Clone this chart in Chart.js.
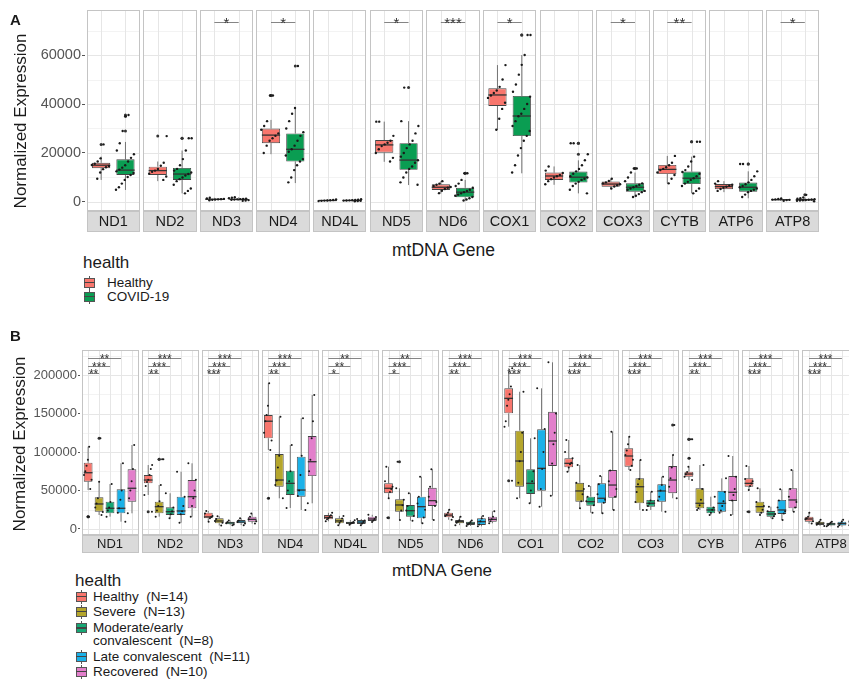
<!DOCTYPE html>
<html>
<head>
<meta charset="utf-8">
<script src="https://cdn.jsdelivr.net/npm/chart.js@4.4.1/dist/chart.umd.min.js"></script>
<style>
  html, body { margin: 0; padding: 0; background: #fff; }
  body { width: 849px; height: 680px; overflow: hidden; position: relative;
         font-family: 'Liberation Sans', Arial, Helvetica, sans-serif; color: #1a1a1a; }
  canvas { position: absolute; display: block; }
  .lbl { position: absolute; white-space: pre; line-height: 1; }
  .ctr { transform: translate(-50%, -50%); }
  .vert { transform: translate(-50%, -50%) rotate(-90deg); }
  .key { position: absolute; width: 11px; height: 14px; }
  .key .wl { position: absolute; left: 5px; top: 0; width: 1px; height: 14px; background: #555; }
  .key .bx { position: absolute; left: 0; top: 2px; width: 11px; height: 10px; box-sizing: border-box; border: 1px solid #555; }
  .key .md { position: absolute; left: 0; top: 6px; width: 11px; height: 1.5px; background: #444; }
</style>
</head>
<body>
<canvas id="chartA" width="849" height="240" style="left:0;top:0"></canvas>
<canvas id="chartB" width="870" height="230" style="left:0;top:330px"></canvas>
<div id="overlay"></div>
<script>
// ---------- Panel A: Healthy vs COVID-19 ----------
const GENES_A = ['ND1','ND2','ND3','ND4','ND4L','ND5','ND6','COX1','COX2','COX3','CYTB','ATP6','ATP8'];
const TICKS_A = [0, 20000, 40000, 60000];
const SERIES_A = ['Healthy', 'COVID-19'];

// five-number summaries per gene: [lower whisker, Q1, median, Q3, upper whisker]
const A_HEALTHY = [
  [9000, 13800, 15000, 16000, 18500], [8500, 11000, 12800, 14400, 16500], [600, 900, 1100, 1300, 1700],
  [19500, 24000, 27300, 30000, 33500], [300, 450, 600, 750, 1000], [16400, 20100, 23300, 25300, 32800],
  [3500, 4900, 6000, 7200, 8500], [29400, 39200, 43700, 46400, 55900], [7000, 9000, 10600, 12000, 14500],
  [5200, 6200, 7300, 8300, 9500], [7600, 11400, 13300, 15100, 18800], [4000, 5200, 6300, 7300, 8500],
  [400, 700, 900, 1100, 1400]
];
const A_COVID = [
  [4900, 11000, 13000, 17400, 24500], [3500, 9000, 11400, 13900, 21000], [400, 800, 1050, 1350, 1900],
  [7700, 16500, 21500, 28000, 38400], [200, 400, 600, 800, 1100], [6900, 13100, 17100, 24000, 33000],
  [500, 1900, 4000, 5800, 9000], [11700, 26900, 35100, 43300, 60000], [3500, 7900, 10100, 12400, 17000],
  [1900, 4200, 6000, 7600, 12000], [3500, 7300, 9700, 12400, 18500], [1500, 4200, 6000, 7900, 12500],
  [200, 600, 900, 1200, 1800]
];
const A_HEALTHY_OUT = [[23500], [26900], [], [43500, 43500], [], [], [], [], [], [], [], [], []];
const A_COVID_OUT = [[29000, 35000, 35500], [26000, 26000], [], [55500], [], [46700], [11700, 11700],
  [68200, 68200], [19500, 24000, 24000], [13700, 13700], [24600, 24600], [15500, 15500], [2900]];
const A_HEALTHY_PTS = [
  [23500, 17800, 16500, 15600, 15100, 14700, 14200, 13400, 12000, 9500],
  [26900, 16000, 14800, 13500, 12800, 12300, 11500, 10400, 9000],
  [1700, 1400, 1250, 1150, 1050, 950, 850, 650],
  [43500, 43500, 33000, 31000, 29500, 28000, 27000, 26000, 25000, 23000, 20000],
  [1000, 800, 700, 600, 550, 450, 350],
  [32800, 32800, 27000, 25000, 24200, 23500, 22800, 21500, 20000, 18000, 16500],
  [8500, 7500, 7000, 6500, 6100, 5800, 5300, 4600, 3600],
  [55900, 50000, 47000, 45500, 44500, 43500, 42500, 40500, 38000, 34000, 29500],
  [14500, 12800, 11800, 11000, 10500, 10000, 9300, 8500, 7200],
  [9500, 8600, 8000, 7600, 7200, 6800, 6300, 5500],
  [18800, 16000, 15000, 14200, 13500, 13000, 12000, 11000, 9500, 7600],
  [8500, 7500, 7000, 6600, 6200, 5800, 5300, 4500],
  [1400, 1200, 1050, 950, 850, 750, 500]
];
const A_COVID_PTS = [
  [35500, 35000, 29000, 24000, 21000, 19500, 18000, 16500, 15000, 14000, 13200, 12500, 11800, 11000, 10200, 9000, 7500, 6000, 5000],
  [26000, 26000, 21000, 17500, 15000, 13500, 12800, 12000, 11400, 10800, 10000, 9300, 8500, 7000, 5500, 4500, 3500],
  [1900, 1700, 1500, 1350, 1250, 1150, 1050, 950, 850, 750, 600, 450],
  [55500, 38400, 36000, 33000, 30000, 28500, 27000, 25000, 23000, 21500, 20500, 19000, 17500, 16500, 15000, 13000, 10000, 8000],
  [1100, 950, 850, 750, 650, 600, 550, 450, 350, 250],
  [46700, 33000, 31000, 28000, 25000, 23500, 22000, 20000, 18500, 17000, 16000, 14500, 13500, 12000, 10000, 8000, 7000],
  [11700, 11700, 9000, 7500, 6500, 5800, 5000, 4500, 4000, 3500, 3000, 2500, 2000, 1500, 1000, 600],
  [68200, 68200, 60000, 56000, 52000, 48000, 45000, 43000, 40000, 38000, 36000, 35000, 33000, 31000, 29000, 27000, 25000, 22000, 19000, 15000, 12000],
  [24000, 24000, 19500, 17000, 15000, 13500, 12500, 11500, 10500, 10000, 9500, 9000, 8200, 7500, 6500, 5000, 3500],
  [13700, 13700, 12000, 10000, 8500, 7600, 7000, 6500, 6000, 5500, 5000, 4500, 4000, 3200, 2500, 2000],
  [24600, 24600, 18500, 16500, 14500, 13000, 12200, 11500, 10500, 9700, 9000, 8200, 7500, 6500, 5500, 4500, 3500],
  [15500, 15500, 12500, 10500, 9000, 8000, 7200, 6500, 6000, 5500, 5000, 4500, 4000, 3000, 2000],
  [2900, 1800, 1500, 1300, 1150, 1000, 900, 800, 700, 600, 450, 300]
];
const A_SIG = ['', '', '*', '*', '', '*', '***', '*', '', '*', '**', '', '*'];
const A_SIG_LEVEL = 73500;

// ---------- Panel B: five clinical groups ----------
const GENES_B = ['ND1','ND2','ND3','ND4','ND4L','ND5','ND6','CO1','CO2','CO3','CYB','ATP6','ATP8'];
const TICKS_B = [0, 50000, 100000, 150000, 200000];
const SERIES_B = ['Healthy  (N=14)', 'Severe  (N=13)', 'Moderate/early\nconvalescent  (N=8)', 'Late convalescent  (N=11)', 'Recovered  (N=10)'];

const B_HEALTHY = [
  [50600, 61400, 73100, 86100, 106900], [44200, 59300, 63600, 70100, 83100], [9500, 13900, 15700, 21200, 23400],
  [102600, 117800, 140000, 148000, 189200], [10000, 12600, 15000, 18200, 21000], [39900, 46400, 52900, 59300, 80900],
  [12000, 15200, 18000, 21200, 25000], [132900, 150300, 169700, 182700, 208700], [74400, 80100, 85300, 91800, 115600],
  [76600, 80900, 94800, 104800, 119900], [63600, 67900, 71400, 74400, 80900], [50600, 54900, 59300, 65800, 81800],
  [7000, 9500, 13000, 16000, 21200]
];
const B_SEVERE = [
  [18200, 22500, 32500, 41200, 61400], [16000, 20400, 29000, 35500, 57100], [4500, 7400, 10400, 13900, 16500],
  [39900, 54900, 63600, 97400, 145800], [5000, 7400, 10500, 13900, 17000], [11700, 22500, 31200, 38600, 52900],
  [5000, 7400, 9500, 11700, 16000], [39900, 54900, 88300, 127700, 178300], [26900, 35500, 49400, 60100, 83100],
  [24700, 33400, 54900, 65800, 89600], [24700, 26900, 33400, 52900, 83100], [18200, 21200, 29000, 35500, 52900],
  [4000, 5200, 7500, 9500, 12000]
];
const B_MODERATE = [
  [16000, 20400, 26900, 35500, 58400], [13900, 18200, 22500, 28200, 46400], [5000, 6100, 8000, 9500, 11000],
  [27300, 44200, 59300, 75700, 109100], [5500, 6500, 8000, 9500, 11500], [10800, 16000, 23800, 31200, 46400],
  [4000, 5200, 7500, 9500, 11000], [33400, 45500, 59300, 77500, 117800], [21200, 30300, 35500, 42000, 55800],
  [24700, 29000, 33400, 37700, 48400], [18200, 20400, 24700, 29000, 42000], [13900, 16000, 19500, 23400, 29000],
  [3500, 4500, 6500, 8000, 9500]
];
const B_LATE = [
  [9500, 20400, 26900, 51500, 85300], [8200, 18200, 23400, 42000, 74400], [5000, 7400, 9000, 11700, 14000],
  [24700, 42000, 50600, 93900, 143800], [5000, 6500, 9000, 11700, 13000], [7400, 13900, 29000, 42000, 67900],
  [3500, 5200, 9500, 13900, 17000], [29000, 49700, 78800, 129500, 182700], [20400, 33400, 39900, 59300, 68800],
  [22500, 35500, 49400, 58100, 67900], [21200, 22500, 33400, 49700, 65800], [11700, 19500, 24700, 37700, 51500],
  [3000, 4500, 7000, 9500, 12000]
];
const B_RECOVERED = [
  [20400, 35500, 52900, 77500, 109100], [16000, 26900, 42000, 63600, 85300], [7000, 9500, 12500, 16000, 20000],
  [33400, 68800, 87400, 120800, 174000], [9000, 10500, 13000, 16000, 18500], [11700, 29900, 36800, 53600, 77500],
  [7500, 9500, 12500, 16000, 23000], [43300, 81800, 114300, 152300, 216500], [24700, 40600, 57100, 76600, 126400],
  [39900, 46400, 63600, 81800, 96100], [18200, 36400, 47700, 68800, 94800], [22500, 26900, 37700, 52900, 76600],
  [5000, 7000, 9500, 12000, 15000]
];
const B_HEALTHY_OUT = [[16000, 16000], [22500], [], [39900], [], [14700], [], [62700], [], [], [116500, 116500, 91800], [22500], []];
const B_SEVERE_OUT = [[117800], [90500, 90500], [], [], [], [87400], [], [], [], [], [], [], []];
const B_MODERATE_OUT = [[], [], [], [], [], [], [], [], [], [], [], [], []];
const B_LATE_OUT = [[], [], [], [], [], [], [], [], [], [], [], [], []];
const B_RECOVERED_OUT = [[], [], [], [], [], [], [], [], [], [135100], [], [], []];

const B_HEALTHY_PTS = [
  [106900, 90000, 82000, 75000, 70000, 64000, 52000, 16000, 16000], [83100, 78000, 70000, 64000, 61000, 56000, 44200, 22500],
  [23400, 20000, 17000, 15500, 14000, 9500], [189200, 160000, 148000, 140000, 125000, 115000, 102600, 39900],
  [21000, 18000, 15500, 14000, 12500, 10000], [80900, 62000, 55000, 52000, 48000, 39900, 14700],
  [25000, 21000, 18500, 17000, 15500, 12000], [208700, 185000, 175000, 168000, 160000, 140000, 132900, 62700],
  [115600, 100000, 92000, 86000, 84000, 80000, 74400], [119900, 110000, 102000, 96000, 90000, 82000, 76600],
  [116500, 116500, 91800, 80900, 74000, 71000, 68000, 63600], [81800, 65000, 62000, 59000, 56000, 50600, 22500],
  [21200, 16000, 14000, 12500, 10000, 7000]
];
const B_SEVERE_PTS = [
  [117800, 61400, 40000, 33000, 28000, 22000, 18200], [90500, 90500, 57100, 36000, 30000, 24000, 16000],
  [16500, 13000, 10500, 8000, 4500], [145800, 95000, 80000, 63000, 57000, 39900], [17000, 13500, 10500, 8000, 5000],
  [87400, 52900, 38000, 31000, 24000, 11700], [16000, 11500, 9500, 8000, 5000], [178300, 125000, 100000, 88000, 60000, 39900],
  [83100, 60000, 52000, 45000, 36000, 26900], [89600, 65000, 58000, 48000, 35000, 24700], [83100, 52000, 38000, 31000, 27000, 24700],
  [52900, 35000, 30000, 25000, 21000, 18200], [12000, 9500, 7500, 5500, 4000]
];
const B_MODERATE_PTS = [
  [58400, 35000, 28000, 24000, 16000], [46400, 28000, 23000, 19000, 13900], [11000, 9000, 7500, 6000, 5000],
  [109100, 75000, 62000, 50000, 27300], [11500, 9000, 8000, 7000, 5500], [46400, 30000, 24000, 17000, 10800],
  [11000, 9000, 7500, 6000, 4000], [117800, 75000, 62000, 50000, 33400], [55800, 42000, 36000, 31000, 21200],
  [48400, 37000, 33000, 30000, 24700], [42000, 28000, 25000, 21000, 18200], [29000, 23000, 19500, 16500, 13900],
  [9500, 8000, 6500, 5000, 3500]
];
const B_LATE_PTS = [
  [85300, 50000, 38000, 27000, 21000, 9500], [74400, 42000, 30000, 23000, 19000, 8200], [14000, 11000, 9000, 7000, 5000],
  [143800, 95000, 70000, 50000, 43000, 24700], [13000, 11000, 9000, 7000, 5000], [67900, 42000, 33000, 25000, 15000, 7400],
  [17000, 13500, 10000, 6000, 3500], [182700, 130000, 100000, 78000, 52000, 29000], [68800, 58000, 45000, 38000, 34000, 20400],
  [67900, 57000, 50000, 42000, 37000, 22500], [65800, 48000, 36000, 30000, 24000, 21200], [51500, 37000, 28000, 23000, 20000, 11700],
  [12000, 9500, 7000, 5000, 3000]
];
const B_RECOVERED_PTS = [
  [109100, 78000, 62000, 50000, 40000, 20400], [85300, 64000, 50000, 40000, 30000, 16000], [20000, 16000, 12500, 10000, 7000],
  [174000, 140000, 118000, 90000, 75000, 33400], [18500, 15500, 13000, 11000, 9000], [77500, 55000, 42000, 35000, 30000, 11700],
  [23000, 16000, 12500, 10000, 7500], [216500, 150000, 125000, 110000, 85000, 43300], [126400, 76000, 62000, 52000, 42000, 24700],
  [135100, 96100, 80000, 66000, 55000, 39900], [94800, 68000, 52000, 44000, 37000, 18200], [76600, 52000, 42000, 35000, 28000, 22500],
  [15000, 12000, 9500, 7500, 5000]
];
// comparisons against Healthy: [labels, compared series index, bracket height]
const B_SIG_TOP = ['**', '***', '***', '***', '**', '**', '***', '***', '***', '***', '***', '***', '***'];
const B_SIG_MID = ['***', '***', '***', '***', '**', '***', '***', '***', '***', '***', '***', '***', '***'];
const B_SIG_BOT = ['**', '**', '***', '**', '*', '*', '**', '***', '***', '***', '**', '***', '***'];
const B_SIG_LEVELS = [222000, 211700, 202600];

// ---------- drawing ----------
const FONT = "'Liberation Sans', Arial, Helvetica, sans-serif";
Chart.defaults.font.family = FONT;

const COLORS_A = ['#F8766D', '#0A9D52'];
const COLORS_B = ['#F8766D', '#B5A62C', '#17A775', '#1BB1E8', '#E27FCB'];

function jitter(k) { return (((k + 1) * 0.6180339887) % 1) * 2 - 1; }

function facetLayer(opt) {
  return {
    id: 'facetLayer',
    beforeDraw(chart) {
      const { ctx, chartArea: ca, scales: { x, y } } = chart;
      const n = chart.data.labels.length;
      const slot = (ca.right - ca.left) / n;
      ctx.save();
      for (let i = 0; i < n; i++) {
        const cx = x.getPixelForValue(i);
        const l = Math.round(cx - slot / 2 + opt.gap / 2);
        const r = Math.round(cx + slot / 2 - opt.gap / 2);
        ctx.lineWidth = 1;
        ctx.strokeStyle = '#f3f3f3';
        opt.minor.forEach(v => {
          const py = Math.round(y.getPixelForValue(v)) + 0.5;
          ctx.beginPath(); ctx.moveTo(l, py); ctx.lineTo(r, py); ctx.stroke();
        });
        ctx.strokeStyle = '#e6e6e6';
        opt.major.forEach(v => {
          const py = Math.round(y.getPixelForValue(v)) + 0.5;
          ctx.beginPath(); ctx.moveTo(l, py); ctx.lineTo(r, py); ctx.stroke();
        });
        chart.data.datasets.forEach((ds, d) => {
          const el = chart.getDatasetMeta(d).data[i];
          const px = Math.round(el.x) + 0.5;
          ctx.beginPath(); ctx.moveTo(px, ca.top); ctx.lineTo(px, ca.bottom); ctx.stroke();
        });
        // panel border
        ctx.strokeStyle = '#c4c4c4';
        ctx.strokeRect(l + 0.5, Math.round(ca.top) + 0.5, r - l - 1, Math.round(ca.bottom - ca.top) - 1);
        // strip below the panel
        ctx.fillStyle = '#dadada';
        ctx.fillRect(l, Math.round(ca.bottom), r - l, opt.strip);
        ctx.strokeRect(l + 0.5, Math.round(ca.bottom) + 0.5, r - l - 1, opt.strip - 1);
        // whiskers
        ctx.strokeStyle = '#555';
        ctx.lineWidth = 0.8;
        chart.data.datasets.forEach((ds, d) => {
          const el = chart.getDatasetMeta(d).data[i];
          const s = ds.stats[i];
          ctx.beginPath();
          ctx.moveTo(el.x, y.getPixelForValue(s[0])); ctx.lineTo(el.x, y.getPixelForValue(s[1]));
          ctx.moveTo(el.x, y.getPixelForValue(s[3])); ctx.lineTo(el.x, y.getPixelForValue(s[4]));
          ctx.stroke();
        });
      }
      ctx.restore();
    },
    afterDatasetsDraw(chart) {
      const { ctx, scales: { y } } = chart;
      const n = chart.data.labels.length;
      ctx.save();
      chart.data.datasets.forEach((ds, d) => {
        const meta = chart.getDatasetMeta(d);
        for (let i = 0; i < n; i++) {
          const el = meta.data[i];
          const s = ds.stats[i];
          // median
          const pm = y.getPixelForValue(s[2]);
          ctx.strokeStyle = '#333';
          ctx.lineWidth = 1.3;
          ctx.beginPath(); ctx.moveTo(el.x - el.width / 2, pm); ctx.lineTo(el.x + el.width / 2, pm); ctx.stroke();
          // outliers
          ctx.fillStyle = '#333';
          ds.outs[i].forEach(v => {
            ctx.beginPath(); ctx.arc(el.x, y.getPixelForValue(v), 1.5, 0, Math.PI * 2); ctx.fill();
          });
          // individual samples
          ctx.fillStyle = '#1a1a1a';
          ds.pts[i].forEach((v, k) => {
            const px = el.x + opt.jitterW * jitter(k * 3 + i * 7 + d * 13);
            ctx.beginPath(); ctx.arc(px, y.getPixelForValue(v), opt.ptR, 0, Math.PI * 2); ctx.fill();
          });
        }
      });
      // significance brackets
      ctx.font = opt.sigFont + 'px ' + FONT;
      ctx.textAlign = 'center';
      ctx.textBaseline = 'alphabetic';
      opt.sig.forEach(g => {
        const py = Math.round(y.getPixelForValue(g.level)) + 0.5;
        for (let i = 0; i < n; i++) {
          const lab = g.labels[i];
          if (!lab) continue;
          const x1 = chart.getDatasetMeta(0).data[i].x;
          const x2 = chart.getDatasetMeta(g.to).data[i].x;
          ctx.strokeStyle = '#666';
          ctx.lineWidth = 0.8;
          ctx.beginPath(); ctx.moveTo(x1, py); ctx.lineTo(x2, py); ctx.stroke();
          ctx.fillStyle = '#333';
          ctx.fillText(lab, (x1 + x2) / 2, py + opt.sigBase);
        }
      });
      ctx.restore();
    }
  };
}

function minorsOf(ticks, max) {
  const step = ticks[1] - ticks[0];
  const out = [];
  for (let v = step / 2; v < max; v += step) out.push(v);
  return out;
}

function makeChart(id, cfg) {
  const datasets = cfg.series.map((name, d) => ({
    label: name,
    data: cfg.stats[d].map(r => [r[1], r[3]]),
    stats: cfg.stats[d], outs: cfg.outs[d], pts: cfg.pts[d],
    backgroundColor: cfg.colors[d],
    borderColor: '#444', borderWidth: 0.9, borderSkipped: false,
    categoryPercentage: cfg.catPct, barPercentage: cfg.barPct
  }));
  return new Chart(document.getElementById(id), {
    type: 'bar',
    data: { labels: cfg.genes, datasets },
    options: {
      responsive: false, animation: false, events: [],
      layout: { padding: cfg.padding },
      plugins: { legend: { display: false }, tooltip: { enabled: false } },
      scales: {
        x: {
          grid: { display: false, drawTicks: false }, border: { display: false },
          ticks: { color: '#1a1a1a', font: { size: cfg.stripFont }, padding: cfg.stripPad, autoSkip: false, maxRotation: 0 },
          afterFit: s => { s.height = cfg.xH; }
        },
        y: {
          min: cfg.min, max: cfg.max,
          afterBuildTicks: s => { s.ticks = cfg.ticks.map(v => ({ value: v })); },
          ticks: { color: '#555', font: { size: cfg.tickFont }, padding: cfg.tickPad, callback: v => String(v) },
          grid: { drawOnChartArea: false, drawTicks: true, tickLength: cfg.tickLen, tickColor: '#555' },
          border: { display: false },
          afterFit: s => { s.width = cfg.yW; }
        }
      }
    },
    plugins: [facetLayer({
      gap: cfg.gap, strip: cfg.strip, major: cfg.ticks, minor: minorsOf(cfg.ticks, cfg.max),
      jitterW: cfg.jitterW, ptR: cfg.ptR, sig: cfg.sig, sigFont: cfg.sigFont, sigBase: cfg.sigBase
    })]
  });
}

makeChart('chartA', {
  genes: GENES_A, series: SERIES_A, colors: COLORS_A,
  stats: [A_HEALTHY, A_COVID], outs: [A_HEALTHY_OUT, A_COVID_OUT], pts: [A_HEALTHY_PTS, A_COVID_PTS],
  ticks: TICKS_A, min: -3700, max: 78400,
  padding: { top: 10, right: 28, left: 0, bottom: 0 }, xH: 29, yW: 85,
  catPct: 0.859, barPct: 0.75, gap: 3.2, strip: 21,
  stripFont: 14.5, stripPad: 2, tickFont: 14.5, tickPad: 1, tickLen: 3,
  jitterW: 10, ptR: 1.2,
  sig: [{ labels: A_SIG, to: 1, level: A_SIG_LEVEL }], sigFont: 15, sigBase: 5.5
});

makeChart('chartB', {
  genes: GENES_B, series: SERIES_B, colors: COLORS_B,
  stats: [B_HEALTHY, B_SEVERE, B_MODERATE, B_LATE, B_RECOVERED],
  outs: [B_HEALTHY_OUT, B_SEVERE_OUT, B_MODERATE_OUT, B_LATE_OUT, B_RECOVERED_OUT],
  pts: [B_HEALTHY_PTS, B_SEVERE_PTS, B_MODERATE_PTS, B_LATE_PTS, B_RECOVERED_PTS],
  ticks: TICKS_B, min: -7800, max: 232500,
  padding: { top: 20, right: 9, left: 0, bottom: 0 }, xH: 25, yW: 80,
  catPct: 0.912, barPct: 0.8, gap: 3, strip: 18,
  stripFont: 13, stripPad: 1.5, tickFont: 13, tickPad: 1, tickLen: 2,
  jitterW: 4.4, ptR: 1.0,
  sig: [
    { labels: B_SIG_TOP, to: 3, level: B_SIG_LEVELS[0] },
    { labels: B_SIG_MID, to: 2, level: B_SIG_LEVELS[1] },
    { labels: B_SIG_BOT, to: 1, level: B_SIG_LEVELS[2] }
  ], sigFont: 12, sigBase: 4
});

// ---------- titles, tags and legends ----------
const overlay = document.getElementById('overlay');
function text(str, x, y, size, cls, extra) {
  const d = document.createElement('div');
  d.className = 'lbl ' + (cls || '');
  d.textContent = str;
  d.style.left = x + 'px';
  d.style.top = y + 'px';
  d.style.fontSize = size + 'px';
  if (extra) Object.assign(d.style, extra);
  overlay.appendChild(d);
  return d;
}
function key(x, cy, color) {
  const k = document.createElement('div');
  k.className = 'key';
  k.style.left = x + 'px';
  k.style.top = (cy - 7) + 'px';
  k.innerHTML = '<div class="wl"></div><div class="bx" style="background:' + color + '"></div><div class="md"></div>';
  overlay.appendChild(k);
}

text('A', 15.5, 19, 15, 'ctr', { fontWeight: 'bold' });
text('B', 15.5, 335, 15, 'ctr', { fontWeight: 'bold' });
text('Normalized Expression', 20, 121, 17, 'vert');
text('Normalized Expression', 18.5, 443.5, 17, 'vert');
text('mtDNA Gene', 443.5, 251, 17.5, 'ctr');
text('mtDNA Gene', 442, 570, 17, 'ctr');

text('health', 83, 262, 17, '', { transform: 'translateY(-50%)' });
[282.7, 296.7].forEach((cy, i) => {
  key(84, cy, COLORS_A[i]);
  text(SERIES_A[i], 107, cy, 13.5, '', { transform: 'translateY(-50%)' });
});

text('health', 75, 580, 17, '', { transform: 'translateY(-50%)' });
[596.7, 611.7, 628.3, 656.7, 671.7].forEach((cy, i) => {
  key(76, cy, COLORS_B[i]);
  const lines = SERIES_B[i].split('\n');
  lines.forEach((ln, j) => text(ln, 93, cy + j * 13, 13.5, '', { transform: 'translateY(-50%)' }));
});
</script>
</body>
</html>
